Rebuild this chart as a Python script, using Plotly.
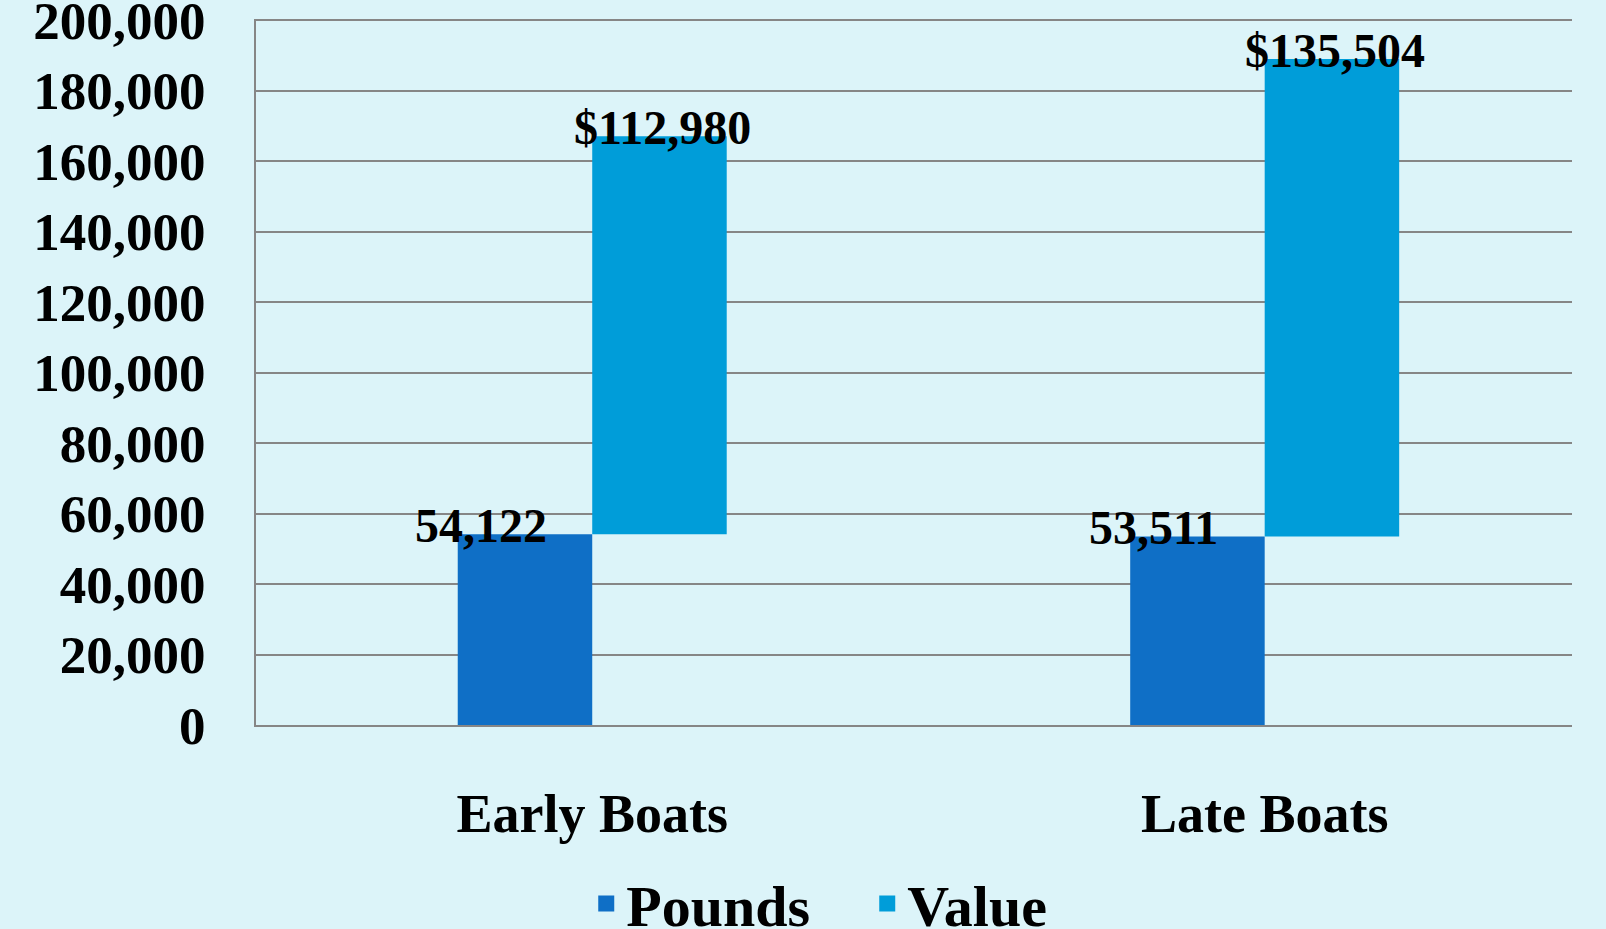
import plotly.graph_objects as go

categories = ["Early Boats", "Late Boats"]
pounds = [54122, 53511]
value = [112980, 135504]
y_ticks = [0, 20000, 40000, 60000, 80000, 100000, 120000, 140000, 160000, 180000, 200000]

FONT = "Liberation Serif"
C_POUNDS = "#0F6FC6"
C_VALUE = "#009DD9"
BG = "#DCF4F9"
GRID = "#868686"

fig = go.Figure()
fig.add_trace(go.Bar(x=categories, y=pounds, name="Pounds", showlegend=False,
                     marker=dict(color=C_POUNDS, line=dict(width=0))))
fig.add_trace(go.Bar(x=categories, y=value, base=pounds, name="Value", showlegend=False,
                     marker=dict(color=C_VALUE, line=dict(width=0))))
# legend keys
fig.add_trace(go.Scatter(x=[None], y=[None], mode="markers", name="Pounds",
                         marker=dict(symbol="square", size=30, color=C_POUNDS)))
fig.add_trace(go.Scatter(x=[None], y=[None], mode="markers", name="Value",
                         marker=dict(symbol="square", size=30, color=C_VALUE)))

for c, p, v in zip(categories, pounds, value):
    fig.add_annotation(x=c, y=p, text=f"{p:,}", showarrow=False, xshift=-111, yshift=9,
                       yanchor="middle", font=dict(family=FONT, size=48, color="black", weight="bold"))
    fig.add_annotation(x=c, y=p + v, text=f"${v:,}", showarrow=False, xshift=70, yshift=9,
                       yanchor="middle", font=dict(family=FONT, size=48, color="black", weight="bold"))

fig.update_layout(
    width=1606, height=929,
    margin=dict(l=256, r=34, t=19, b=204, autoexpand=False),
    paper_bgcolor=BG, plot_bgcolor=BG,
    barmode="group", bargap=0.6, bargroupgap=0,
    font=dict(family=FONT, color="black"),
    showlegend=True,
    legend=dict(orientation="h", xref="container", yref="container", x=0.54, xanchor="center",
                y=0.027, yanchor="middle", entrywidth=236, entrywidthmode="pixels",
                font=dict(family=FONT, size=58, color="black", weight="bold"),
                bgcolor="rgba(0,0,0,0)"),
)
fig.update_xaxes(range=[-0.5, 1.457], showgrid=False, showline=True, linecolor=GRID, linewidth=2,
                 ticks="", ticklabelstandoff=40, automargin=False,
                 tickfont=dict(family=FONT, size=54, color="black", weight="bold"))
fig.update_yaxes(range=[0, 200400], tickvals=y_ticks, tickformat=",d", showgrid=True, gridcolor=GRID,
                 gridwidth=2, showline=True, linecolor=GRID, linewidth=2, zeroline=False, ticks="",
                 ticklabelstandoff=38, ticklabeloverflow="allow", automargin=False,
                 tickfont=dict(family=FONT, size=53, color="black", weight="bold"))

fig.write_html("out.html", config={"displayModeBar": False},
               post_script="document.body.style.margin='0';document.body.style.background='%s';" % BG)
